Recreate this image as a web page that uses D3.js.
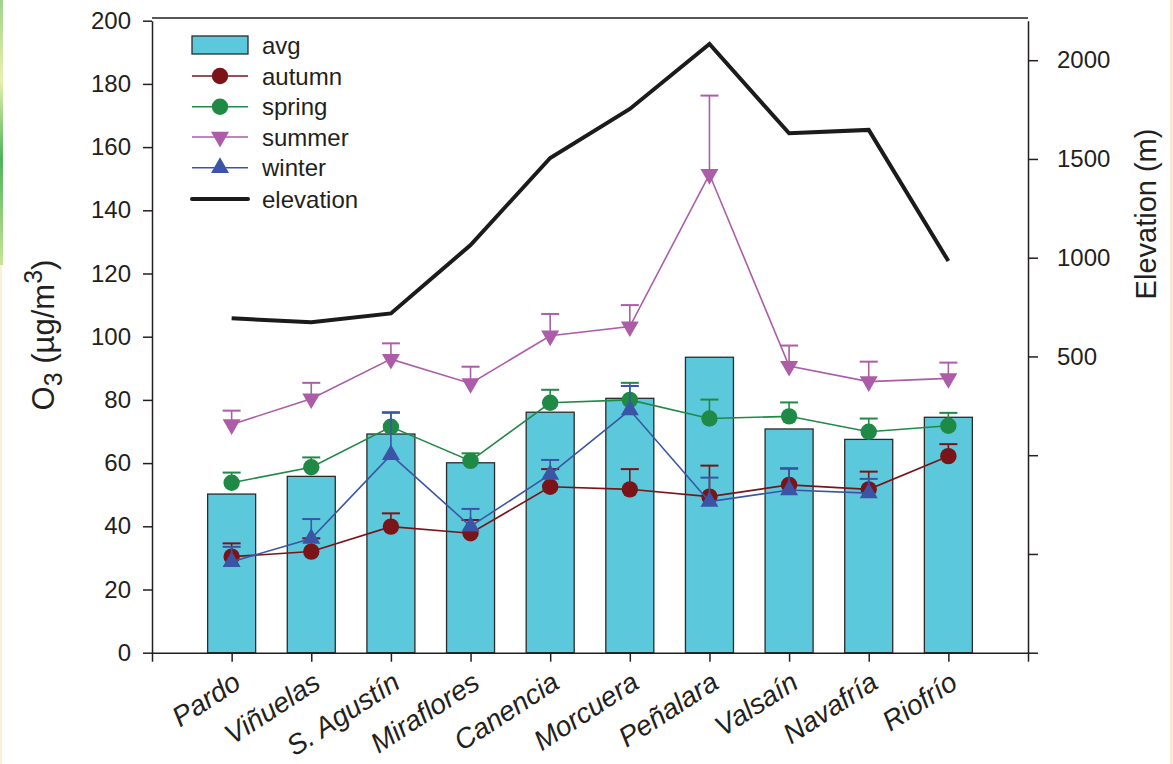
<!doctype html>
<html lang="es">
<head>
<meta charset="utf-8">
<title>O3 by site</title>
<script src="https://cdn.jsdelivr.net/npm/d3@7/dist/d3.min.js"></script>
<style>
  body { margin: 0; background: #fff; }
  svg { display: block; font-family: "Liberation Sans", Arial, sans-serif; }
</style>
</head>
<body>
<script>

// Data
var sites = ["Pardo", "Viñuelas", "S. Agustín", "Miraflores", "Canencia", "Morcuera", "Peñalara", "Valsaín", "Navafría", "Riofrío"];
var avg = [50.2, 55.8, 69.2, 60.1, 76.1, 80.5, 93.5, 70.8, 67.5, 74.5];
var autumn = [30.4, 32.0, 39.9, 37.8, 52.5, 51.7, 49.4, 53.1, 51.7, 62.2];
var autumnErr = [4.2, 4.2, 4.2, 4.2, 5.6, 6.4, 9.8, 5.2, 5.6, 3.8];
var spring = [53.8, 58.7, 71.5, 60.7, 79.1, 80.0, 74.1, 74.8, 69.9, 71.8];
var springErr = [3.2, 3.1, 4.4, 2.4, 4.1, 5.4, 6.0, 4.4, 4.2, 4.1];
var summer = [72.2, 80.4, 92.9, 85.2, 100.3, 103.2, 151.4, 90.7, 85.8, 86.8];
var summerErr = [4.4, 5.0, 5.0, 5.3, 6.9, 6.8, 24.9, 6.5, 6.3, 5.0];
var winter = [28.8, 36.1, 62.6, 40.0, 56.4, 76.8, 47.8, 51.5, 50.5, null];
var winterErr = [4.7, 6.2, 13.5, 5.5, 4.6, 7.6, 7.6, 6.8, 4.5, null];
var elevation = [693, 673, 718, 1064, 1505, 1753, 2082, 1630, 1647, 983];
var o3Ticks = d3.range(0, 201, 20);
var elevTicks = [-1000, -500, 0, 500, 1000, 1500, 2000];

// Graphics
var W = 1173, H = 764;
var plotL = 152, plotR = 1028, plotT = 20.7, plotB = 652.7;
var ink = "#231f20";

var svg = d3.select("body").append("svg")
  .attr("width", W)
  .attr("height", H);

// page edge strips
var grad = svg.append("defs").append("linearGradient")
  .attr("id", "edge").attr("x1", 0).attr("y1", 0).attr("x2", 0).attr("y2", 1);
grad.append("stop").attr("offset", "0%").attr("stop-color", "#9fd38a");
grad.append("stop").attr("offset", "30%").attr("stop-color", "#e8f1b0");
grad.append("stop").attr("offset", "60%").attr("stop-color", "#4cb35a");
grad.append("stop").attr("offset", "100%").attr("stop-color", "#c9e59a");
svg.append("rect").attr("x", 0).attr("y", 0).attr("width", 3).attr("height", 265).attr("fill", "url(#edge)");
svg.append("rect").attr("x", 0).attr("y", 265).attr("width", 2).attr("height", H - 265).attr("fill", "#fcefd9");
svg.append("rect").attr("x", 1170).attr("y", 0).attr("width", 3).attr("height", H).attr("fill", "#fce9cf");

// Scales
var x = d3.scaleLinear().domain([0, sites.length + 1]).range([plotL, plotR]);
var y = d3.scaleLinear().domain([0, 200]).range([plotB, plotT]);
var yElev = d3.scaleLinear().domain([-1000, 2200]).range([plotB, plotT]);
var barW = 48;

// top frame line
svg.append("line")
  .attr("x1", plotL).attr("x2", plotR)
  .attr("y1", 18).attr("y2", 18)
  .attr("stroke", ink).attr("stroke-width", 1.5);

// Bars
svg.selectAll("rect.bar")
  .data(avg)
  .enter()
  .append("rect")
  .attr("class", "bar")
  .attr("x", function(d, i) { return x(i + 1) - barW / 2; })
  .attr("y", function(d) { return y(d); })
  .attr("width", barW)
  .attr("height", function(d) { return y(0) - y(d); })
  .attr("fill", "#5bc8db")
  .attr("stroke", "#2b2b2b")
  .attr("stroke-width", 1.3);

// symbols
var circleSym = d3.symbol().type(d3.symbolCircle).size(Math.PI * 8.2 * 8.2);
var triUp = function(s) { return "M0," + (-s * 0.577) + "L" + (s / 2) + "," + (s * 0.289) + "L" + (-s / 2) + "," + (s * 0.289) + "Z"; };
var triDown = function(s) { return "M0," + (s * 0.577) + "L" + (s / 2) + "," + (-s * 0.289) + "L" + (-s / 2) + "," + (-s * 0.289) + "Z"; };

var series = [
  { name: "autumn", values: autumn, err: autumnErr, color: "#7b1418", shape: "circle" },
  { name: "spring", values: spring, err: springErr, color: "#1f8a45", shape: "circle" },
  { name: "summer", values: summer, err: summerErr, color: "#ad5ca7", shape: "down" },
  { name: "winter", values: winter, err: winterErr, color: "#3a55a6", shape: "up" }
];

function marker(sel, shape) {
  if (shape === "circle") return sel.attr("d", circleSym());
  if (shape === "down") return sel.attr("d", triDown(18));
  return sel.attr("d", triUp(18));
}

var line = d3.line()
  .defined(function(d) { return d != null; })
  .x(function(d, i) { return x(i + 1); })
  .y(function(d) { return y(d); });

series.forEach(function(s) {
  var g = svg.append("g").attr("class", "series " + s.name);
  g.append("path")
    .datum(s.values)
    .attr("d", line)
    .attr("fill", "none")
    .attr("stroke", s.color)
    .attr("stroke-width", 1.6);

  var pts = s.values.map(function(v, i) { return { v: v, e: s.err[i], i: i }; })
    .filter(function(d) { return d.v != null; });

  var eb = g.selectAll("g.err").data(pts).enter().append("g").attr("class", "err");
  eb.append("line")
    .attr("x1", function(d) { return x(d.i + 1); })
    .attr("x2", function(d) { return x(d.i + 1); })
    .attr("y1", function(d) { return y(d.v); })
    .attr("y2", function(d) { return y(d.v + d.e); })
    .attr("stroke", s.color).attr("stroke-width", 1.6);
  eb.append("line")
    .attr("x1", function(d) { return x(d.i + 1) - 9; })
    .attr("x2", function(d) { return x(d.i + 1) + 9; })
    .attr("y1", function(d) { return y(d.v + d.e); })
    .attr("y2", function(d) { return y(d.v + d.e); })
    .attr("stroke", s.color).attr("stroke-width", 2);

  g.selectAll("path.mk").data(pts).enter().append("path")
    .attr("class", "mk")
    .call(marker, s.shape)
    .attr("transform", function(d) { return "translate(" + x(d.i + 1) + "," + y(d.v) + ")"; })
    .attr("fill", s.color);
});

// Elevation line
svg.append("path")
  .datum(elevation)
  .attr("d", d3.line()
    .x(function(d, i) { return x(i + 1); })
    .y(function(d) { return yElev(d); }))
  .attr("fill", "none")
  .attr("stroke", "#1c1a1a")
  .attr("stroke-width", 4)
  .attr("stroke-linejoin", "miter");

// Axes
var yAxis = d3.axisLeft(y).tickValues(o3Ticks).tickSizeInner(9).tickSizeOuter(0).tickPadding(12);
var yAxisR = d3.axisRight(yElev).tickValues(elevTicks).tickSizeInner(10).tickSizeOuter(0).tickPadding(19)
  .tickFormat(function(d) { return d > 0 ? d : ""; });
var xAxis = d3.axisBottom(x).tickValues(d3.range(0, sites.length + 2)).tickSizeInner(9).tickSizeOuter(0).tickFormat("");

function styleAxis(g) {
  g.selectAll("path.domain").attr("stroke", ink).attr("stroke-width", 1.5);
  g.selectAll(".tick line").attr("stroke", ink).attr("stroke-width", 1.5);
  g.selectAll(".tick text").attr("fill", ink).attr("font-size", 24)
    .attr("font-family", "'Liberation Sans', Arial, sans-serif");
}

svg.append("g").attr("class", "axis y").attr("transform", "translate(" + plotL + ",0)").call(yAxis).call(styleAxis);
svg.append("g").attr("class", "axis y2").attr("transform", "translate(" + plotR + ",0)").call(yAxisR).call(styleAxis);
svg.append("g").attr("class", "axis x").attr("transform", "translate(0," + plotB + ")").call(xAxis).call(styleAxis);

// category labels
svg.selectAll("text.site")
  .data(sites)
  .enter()
  .append("text")
  .attr("class", "site")
  .attr("transform", function(d, i) { return "translate(" + (x(i + 1) + 11) + "," + 687 + ") rotate(-33)"; })
  .attr("text-anchor", "end")
  .attr("font-size", 28)
  .attr("font-style", "italic")
  .attr("fill", ink)
  .text(function(d) { return d; });

// axis titles
var t1 = svg.append("text")
  .attr("transform", "translate(54,335) rotate(-90)")
  .attr("text-anchor", "middle")
  .attr("font-size", 31)
  .attr("fill", ink);
t1.append("tspan").text("O");
t1.append("tspan").attr("font-size", 25).attr("dy", 8).text("3");
t1.append("tspan").attr("dy", -8).text(" (µg/m");
t1.append("tspan").attr("font-size", 25).attr("dy", -12).text("3");
t1.append("tspan").attr("dy", 12).text(")");

svg.append("text")
  .attr("transform", "translate(1156,214) rotate(-90)")
  .attr("text-anchor", "middle")
  .attr("font-size", 29)
  .attr("fill", ink)
  .text("Elevation (m)");

// Legend
var legend = svg.append("g").attr("class", "legend");
var lx0 = 192, lx1 = 248, lxm = 220, ltx = 262;
var rows = [45, 76, 106.7, 137, 167.7, 199];

legend.append("rect")
  .attr("x", lx0).attr("y", rows[0] - 9)
  .attr("width", lx1 - lx0).attr("height", 18)
  .attr("fill", "#5bc8db").attr("stroke", "#2b2b2b").attr("stroke-width", 1.3);

series.forEach(function(s, k) {
  var ry = rows[k + 1];
  legend.append("line")
    .attr("x1", lx0).attr("x2", lx1).attr("y1", ry).attr("y2", ry)
    .attr("stroke", s.color).attr("stroke-width", 1.6);
  legend.append("path")
    .call(marker, s.shape)
    .attr("transform", "translate(" + lxm + "," + ry + ")")
    .attr("fill", s.color);
});

legend.append("line")
  .attr("x1", lx0).attr("x2", lx1).attr("y1", rows[5]).attr("y2", rows[5])
  .attr("stroke", "#1c1a1a").attr("stroke-width", 4).attr("stroke-linecap", "round");

var labels = ["avg", "autumn", "spring", "summer", "winter", "elevation"];
legend.selectAll("text")
  .data(labels)
  .enter()
  .append("text")
  .attr("x", ltx)
  .attr("y", function(d, i) { return rows[i]; })
  .attr("dy", "0.36em")
  .attr("font-size", 24)
  .attr("fill", ink)
  .text(function(d) { return d; });

</script>
</body>
</html>
